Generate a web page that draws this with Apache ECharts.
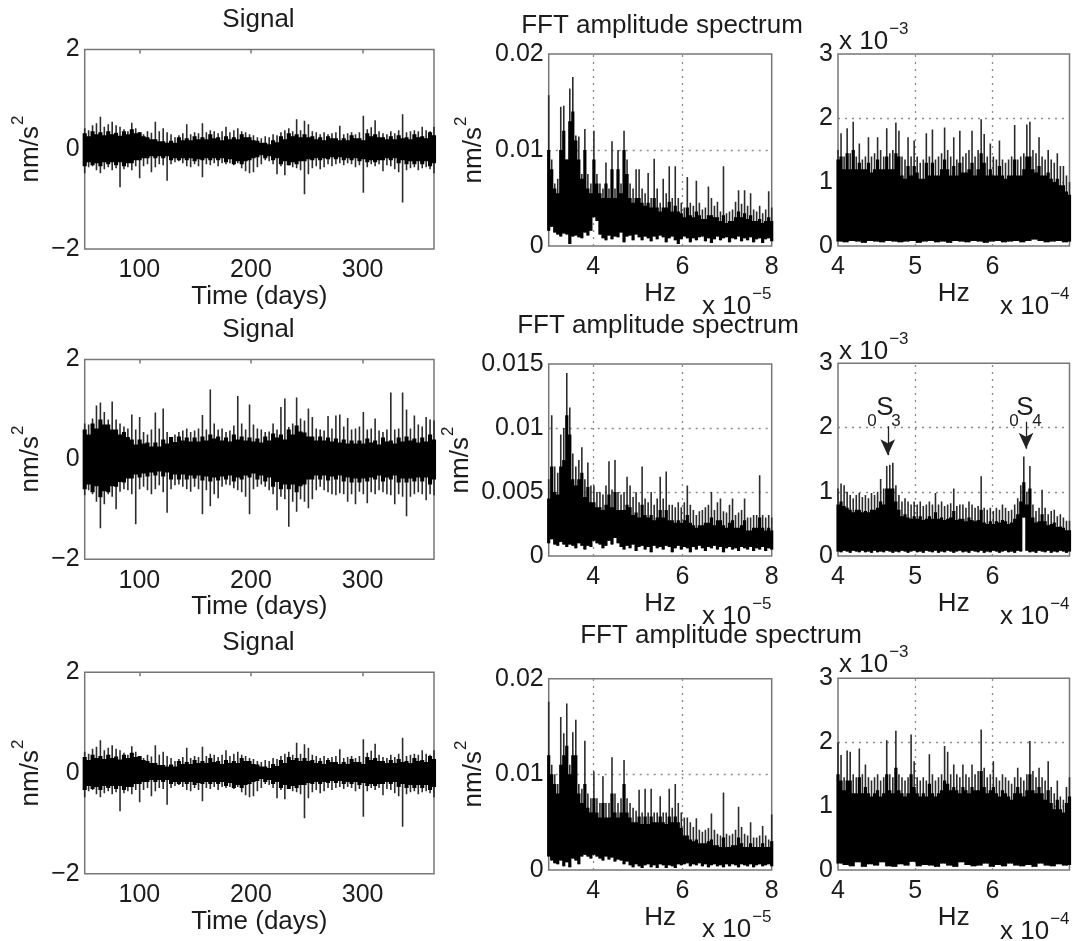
<!DOCTYPE html>
<html lang="en">

<head>
    <meta charset="UTF-8">
    <title>Signal and FFT amplitude spectrum</title>
    <script src="https://cdn.jsdelivr.net/npm/echarts@6/dist/echarts.min.js"></script>
</head>
<style>
    html, body { margin: 0; padding: 0; background: #fff; }
</style>

<body>
    <div id="box" style="width:1073px;height:941px"></div>
</body>
<script>
    // signal panels (nm/s2), rows 1 and 3 show the same trace
    const sigATop = [.42,.38,.48,.52,.65,.45,.5,.55,.48,.45,.4,.36,.53,.42,.34,.3,.36,.33,.55,.36,.42,.34,.3,.24,.28,.32,.5,.3,.34,.32,.52,.34,.38,.36,.32,.36,.45,.34,.38,.42,.36,.34,.3,.28,.24,.22,.26,.24,.3,.28,.34,.38,.42,.36,.6,.38,.57,.5,.36,.34,.3,.34,.3,.32,.34,.47,.3,.32,.34,.3,.34,.67,.4,.44,.58,.36,.32,.3,.36,.32,.38,.7,.34,.36,.38,.36,.45,.38,.36,.45];
    const sigABot = [-.48,-.36,-.34,-.42,-.48,-.4,-.36,-.42,-.38,-.76,-.4,-.36,-.42,-.34,-.58,-.34,-.3,-.46,-.36,-.3,-.32,-.63,-.3,-.26,-.24,-.28,-.34,-.36,-.3,-.34,-.56,-.3,-.32,-.28,-.34,-.28,-.3,-.28,-.32,-.28,-.38,-.44,-.48,-.46,-.36,-.3,-.22,-.24,-.3,-.5,-.34,-.52,-.32,-.36,-.38,-.42,-.9,-.5,-.38,-.34,-.4,-.36,-.3,-.34,-.3,-.28,-.32,-.28,-.3,-.36,-.32,-.87,-.36,-.3,-.34,-.3,-.44,-.32,-.34,-.4,-.46,-1.07,-.42,-.38,-.36,-.42,-.38,-.36,-.4,-.48];
    const sigACoreTop = [.32,.26,.36,.3,.34,.28,.36,.3,.33,.27,.36,.3,.4,.32,.34,.26,.24,.2,.2,.16,.16,.13,.17,.13,.24,.18,.22,.18,.26,.2,.24,.2,.3,.22,.24,.18,.26,.2,.24,.2,.3,.24,.24,.18,.17,.13,.13,.1,.18,.14,.26,.2,.32,.26,.3,.24,.3,.24,.26,.2,.24,.18,.26,.22,.22,.18,.22,.18,.28,.22,.22,.18,.32,.26,.3,.24,.24,.2,.26,.2,.28,.22,.24,.2,.3,.24,.26,.22,.34,.28];
    const sigACoreBot = [-.34,-.26,-.32,-.28,-.34,-.26,-.3,-.26,-.32,-.26,-.34,-.28,-.28,-.22,-.22,-.18,-.18,-.14,-.18,-.14,-.18,-.14,-.22,-.18,-.22,-.18,-.22,-.18,-.24,-.2,-.22,-.18,-.22,-.18,-.22,-.18,-.26,-.2,-.3,-.24,-.3,-.24,-.22,-.18,-.16,-.12,-.18,-.14,-.22,-.18,-.3,-.24,-.32,-.26,-.3,-.24,-.24,-.2,-.22,-.18,-.22,-.18,-.2,-.16,-.2,-.16,-.22,-.18,-.22,-.18,-.24,-.2,-.26,-.22,-.26,-.22,-.22,-.18,-.22,-.18,-.28,-.22,-.3,-.24,-.3,-.24,-.3,-.24,-.34,-.28];

    const sigBTop = [.72,.7,.82,1.08,1.14,.95,.8,1.16,.8,.72,.66,.62,.9,.6,.85,.55,.5,.6,.94,.62,1.02,.55,.45,.5,.55,.58,.62,.55,.58,.62,.89,.6,1.4,.72,.6,.62,.55,.58,.68,1.27,.72,.6,1.1,.7,.62,.6,.55,.56,.72,.6,1.05,1.22,.65,.72,1.24,.82,.78,1.02,.85,.62,.6,.58,.87,.62,.88,.9,.66,.83,.6,.62,.66,.95,.6,.62,.82,.58,.55,.6,1.34,.6,.62,1.34,1.0,.62,.88,.7,.66,.85,.8,.78];
    const sigBBot = [-.72,-.62,-.7,-.85,-1.38,-.9,-.7,-.75,-1.0,-.65,-.6,-.62,-.7,-1.3,-.6,-.55,-.62,-.7,-.6,-.52,-.66,-1.07,-.6,-.52,-.5,-.55,-.6,-.65,-.55,-.6,-1.1,-.62,-.94,-.7,-.78,-.55,-.5,-.52,-.58,-.62,-.66,-.75,-1.1,-.6,-.55,-.5,-.55,-.62,-.7,-1.02,-.75,-.8,-1.35,-.85,-1.05,-.8,-.85,-.98,-.8,-.62,-.55,-.62,-.66,-.7,-.72,-.68,-.7,-.85,-.7,-.9,-.65,-.7,-.88,-.66,-.7,-.62,-.66,-.7,-.72,-.9,-.7,-.75,-1.14,-.75,-.7,-.66,-.7,-.82,-.7,-.72];
    const sigBCoreTop = [.6,.5,.72,.62,.8,.7,.7,.6,.6,.5,.55,.45,.4,.3,.4,.32,.34,.26,.34,.26,.4,.32,.45,.35,.46,.38,.44,.36,.44,.36,.46,.38,.5,.42,.46,.38,.44,.36,.5,.4,.46,.38,.44,.36,.42,.34,.46,.38,.52,.44,.5,.4,.6,.5,.68,.56,.54,.46,.46,.38,.46,.38,.44,.36,.42,.34,.4,.32,.38,.32,.38,.32,.42,.34,.38,.3,.44,.36,.38,.32,.44,.36,.46,.38,.42,.34,.44,.36,.5,.4];
    const sigBCoreBot = [-.6,-.5,-.66,-.54,-.76,-.64,-.66,-.54,-.55,-.45,-.46,-.38,-.38,-.3,-.36,-.28,-.34,-.26,-.32,-.24,-.34,-.26,-.4,-.3,-.4,-.3,-.4,-.32,-.38,-.32,-.42,-.34,-.44,-.36,-.42,-.34,-.4,-.32,-.44,-.36,-.4,-.32,-.36,-.28,-.4,-.32,-.44,-.36,-.55,-.45,-.6,-.5,-.6,-.5,-.66,-.54,-.5,-.4,-.4,-.32,-.4,-.32,-.42,-.34,-.4,-.32,-.44,-.36,-.46,-.38,-.46,-.38,-.44,-.36,-.4,-.32,-.44,-.36,-.4,-.32,-.46,-.38,-.46,-.38,-.44,-.36,-.44,-.36,-.5,-.4];

    // low band spectra, in units of 1e-3 nm/s2
    const lowATop = [15.7,9,6.5,7,14.5,14.6,9,16.4,17.6,11.5,11.4,7.5,12.2,7.5,6.5,12,7.5,6.5,6,8.7,6,10.9,6,10,6.5,12,9,6.5,6,8,8,6,5.5,7.6,5,9.1,6,4.5,7,5.5,8.3,5,8.3,5,4.5,4,7.2,4.5,4.2,6.8,4.5,3.8,4,6.2,5,4.2,4.6,3.6,8.3,3.4,3.6,3.8,4.6,5.8,4.4,5.8,4.2,5.5,3.8,3.6,4.2,3.4,3.8,5.7,4];
    const lowACoreTop = [10,8,6,5.5,10,12,9,13,14,11,9,7,10,6,5.5,9,6.5,5.5,5,6.5,5,8,5,8,5.5,10,7.5,5,4.5,5,5,4.5,4.2,4.5,4,5,4,3.6,4,4,4.6,3.6,4.2,3.6,3.4,3,4,3.2,3,3.6,3.2,2.8,2.8,3.2,3.2,3,3,2.6,3.2,2.4,2.6,2.6,3,3.6,3,3.4,2.8,3.2,2.6,2.6,2.8,2.4,2.6,3,2.6];
    const lowACoreBot = [1.6,2,1.4,1.2,1,1.3,1.2,.2,1,1.1,.9,.8,1.4,1.1,1.6,3,2.6,1.2,.8,.6,1.1,.7,1,.9,1.4,.4,1,1.1,.6,1.2,.9,.6,1,.8,.5,1,.7,1.1,.9,.4,.8,1,.6,.2,.7,1,.8,.4,.8,.6,.9,1,.5,.8,.3,.7,1,.6,.8,.9,.4,.8,.7,1,.5,.8,.6,.9,.4,.7,.8,.3,.7,.8,.5];

    const lowBTop = [6,11,7,6.5,9.5,10,14.3,11.6,8,7,7.5,8.5,6,7.3,5.5,5.5,5,5,4.8,5.5,7.4,5.2,7.5,5,4.8,5,6.2,5.5,4.6,5,4.2,7,4.5,4.2,5,4,4.5,6.2,4.5,6.6,4,4,3.8,4.2,3.8,4.2,5.5,4,3.6,3.2,3.5,3.6,3.8,4,5,3.6,4.2,4.5,3.5,3.4,4,4.5,3.2,3.4,3.6,4.5,3,3,3.2,3.2,6.3,3.2,3,3.2,3];
    const lowBCoreTop = [4.5,7,5,4.8,7,7.5,11,9.5,6,5.5,6,6.5,4.6,5.4,4.2,4.2,3.8,3.8,3.6,4,4.8,3.8,5,3.6,3.6,3.6,4,3.8,3.2,3.4,3,4,3.2,3,3.2,2.8,3,3.6,3,3.6,2.8,2.8,2.6,2.8,2.6,2.8,3.2,2.6,2.4,2.2,2.4,2.4,2.6,2.6,3,2.4,2.8,2.8,2.4,2.2,2.6,2.8,2.2,2.2,2.4,2.8,2,2,2.2,2.2,3,2.2,2,2.2,2];
    const lowBCoreBot = [1,1.3,.9,.8,1.1,.9,.7,.9,.8,.6,1,.8,.5,.8,.7,1.2,1,.9,.6,.8,1.2,.9,1.4,1,.7,.5,.8,.6,.9,.4,.7,.8,.5,.7,.3,.8,.6,.7,.5,.8,.7,.3,.6,.8,.5,.7,.6,.3,.7,.5,.8,.6,.4,.7,.6,.8,.5,.7,.3,.6,.7,.5,.6,.4,.7,.6,.5,.7,.4,.6,.5,.7,.4,.6,.5];

    const lowCTop = [17.6,11,10,9,16,14.3,17.4,11,14.4,15.7,9,8.5,13.5,8,7.5,10.3,7.5,7,9.8,7,7,11.8,8,7,7.5,11.5,7.5,7,6.5,6.2,8.4,6,8.5,6,8.5,6,6,7.7,6,6,8.5,6.5,9,7,6,5.5,5.5,5,4.5,5.4,4.2,4,4.2,4.4,5.9,4.2,3.8,3.6,8.1,3.8,3.6,3.8,4.2,6.6,4.5,3.8,3.6,5,3.4,3.4,3.6,4.6,3.6,3.2,5.8];
    const lowCCoreTop = [12,10,9,8,11,12,13,10,12,12,8,7,9,6.5,6,7.5,6,5.5,7,5.5,5.5,8,6,5.5,6,9,6,5.5,5,5,5.6,4.8,5.6,4.8,5.6,5,5,5.6,5,4.8,5.6,5,5.6,5,4.4,3.6,3.6,3.2,3,3.2,2.8,2.8,2.8,3,3.2,2.6,2.6,2.4,3.4,2.4,2.4,2.6,2.6,3.4,2.8,2.4,2.4,2.8,2.4,2.4,2.4,2.8,2.4,2.4,3];
    const lowCCoreBot = [1.4,1,.7,.6,1,.4,.8,.3,1.2,1,.6,1.4,1.6,1.4,1.2,1.6,1.4,1.2,1,1.4,1.1,1.3,.9,1.1,1,.6,.9,.5,.3,.6,.4,.2,.5,.6,.3,.5,.2,.6,.5,.2,.5,.4,.2,.6,.5,.6,.7,.4,.6,.5,.7,.4,.6,.3,.5,.6,.4,.5,.3,.6,.4,.6,.5,.3,.6,.5,.4,.6,.3,.5,.6,.4,.5,.6,.4];

    // high band spectra, in units of 1e-3 nm/s2
    const highATop = [1.5,1.76,1.4,1.84,1.45,1.94,1.4,1.6,1.35,1.4,1.7,1.4,1.45,1.7,1.5,1.4,1.84,1.45,1.5,1.93,1.8,1.4,1.35,1.7,1.4,1.65,1.4,1.3,1.35,1.76,1.4,1.82,1.35,1.4,1.45,1.85,1.5,1.4,1.7,1.35,1.8,1.4,1.45,1.5,1.8,1.4,1.5,1.98,1.75,1.4,1.6,1.4,1.35,1.65,1.35,1.3,1.35,1.4,1.89,1.35,1.4,1.45,1.9,1.94,1.5,1.45,1.7,1.4,1.35,1.5,1.35,1.3,1.45,1.25,1.25,1.1,1.0];
    const highACoreTop = [1.35,1.4,1.2,1.45,1.2,1.5,1.2,1.3,1.2,1.2,1.3,1.15,1.2,1.35,1.2,1.2,1.4,1.2,1.2,1.45,1.4,1.1,1.05,1.25,1.1,1.25,1.15,1.05,1.05,1.3,1.1,1.3,1.1,1.1,1.2,1.35,1.2,1.1,1.25,1.1,1.3,1.15,1.15,1.2,1.3,1.1,1.2,1.45,1.3,1.1,1.2,1.1,1.1,1.25,1.1,1.05,1.1,1.1,1.35,1.1,1.1,1.2,1.4,1.4,1.2,1.15,1.25,1.1,1.1,1.15,1.05,1,1.05,.95,.95,.85,.8];
    const highACoreBot = [.07,.06,.08,.07,.05,.08,.07,.06,.08,.07,.06,.07,.08,.05,.07,.08,.06,.07,.05,.08,.07,.06,.08,.07,.05,.07,.08,.06,.07,.08,.06,.08,.1,.08,.06,.07,.08,.06,.07];

    const highBTop = [1.05,1.13,1.1,1.0,.95,.9,.95,.98,.92,.95,.9,.98,.95,1.0,1.2,1.05,1.4,1.42,1.45,1.1,.95,.85,.9,.85,.8,.85,.8,.85,.78,.8,.85,.8,.98,.8,.85,.78,.8,.82,1.05,.78,.8,.8,.75,.85,.8,.75,.78,1.24,.75,.72,.75,.7,.75,.72,.8,.75,.7,.72,.8,.9,1.1,1.55,1.0,1.4,.8,.7,.75,1.03,.75,.65,.7,.72,.62,.65,.6,.55,.55];
    const highBCoreTop = [.8,.85,.78,.75,.72,.68,.72,.72,.68,.7,.68,.72,.72,.75,.85,.8,1.05,1.05,1.05,.85,.72,.62,.65,.6,.58,.62,.58,.62,.56,.58,.62,.58,.68,.58,.6,.56,.58,.6,.7,.56,.58,.58,.54,.6,.56,.54,.56,.72,.52,.5,.54,.5,.54,.52,.56,.54,.5,.52,.58,.65,.85,1.15,.8,1.05,.6,.52,.54,.65,.54,.48,.5,.52,.45,.46,.44,.4,.4];
    const highBCoreBot = [.07,.06,.08,.07,.05,.08,.07,.06,.08,.06,.07,.05,.08,.06,.07,.06,.08,.07,.05,.07,.06,.08,.07,.05,.07,.08,.06,.07,.05,.08,.07,.06,.08,.05,.07,.06,.08,.07,.05,.07,.08,.06,.07,.05,.08,.07,.06,.08,.05,.07,.06,.08,.07,.05,.07,.08,.06,.07,.05,.08,.07,.6,.08,.06,.07,.05,.08,.07,.06,.08,.05,.07,.06,.08,.07,.05,.07];

    const highCTop = [2.0,1.8,1.45,1.87,1.85,1.5,1.45,1.9,1.5,1.65,1.45,1.4,1.45,1.5,1.4,1.45,2.03,1.5,1.45,2.18,1.5,1.45,1.4,1.45,2.12,1.7,1.45,1.4,1.45,1.4,1.81,1.5,1.4,1.45,1.5,1.94,1.85,1.5,1.65,1.5,1.45,1.65,1.5,1.45,1.65,1.5,1.55,2.2,1.6,1.45,1.5,1.7,1.45,1.4,1.5,1.45,1.4,1.35,1.45,1.6,1.45,1.4,1.5,2.02,1.55,1.45,1.6,1.45,1.4,1.7,1.3,1.2,1.4,1.15,1.1,1.3,1.45];
    const highCCoreTop = [1.5,1.4,1.25,1.4,1.4,1.2,1.2,1.45,1.2,1.3,1.2,1.15,1.2,1.25,1.15,1.2,1.5,1.25,1.2,1.6,1.25,1.2,1.15,1.2,1.5,1.3,1.2,1.15,1.2,1.15,1.35,1.2,1.15,1.2,1.25,1.4,1.35,1.25,1.3,1.25,1.2,1.3,1.25,1.2,1.3,1.25,1.25,1.55,1.3,1.2,1.25,1.3,1.2,1.15,1.25,1.2,1.15,1.1,1.2,1.3,1.2,1.15,1.25,1.5,1.25,1.2,1.3,1.2,1.1,1.25,1.05,.95,1.1,.95,.9,1.05,1.15];
    const highCCoreBot = [.1,.08,.06,.12,.05,.09,.07,.12,.06,.05,.09,.07,.13,.06,.08,.07,.05,.1,.07,.05,.12,.08,.06,.07,.1,.05,.08,.06,.1,.07,.06,.08,.05,.1,.07,.06,.09,.07,.08];

    const ink = '#1c1c1c';
    const frame = '#777';
    const font = '"Liberation Sans", Arial, sans-serif';

    const grids = [], xAxes = [], yAxes = [], series = [], texts = [];

    // x position of each sample, evenly across the axis
    function place(xMin, xMax, n) {
        const out = [];
        for (let i = 0; i < n; i++) out.push(xMin + (xMax - xMin) * i / (n - 1));
        return out;
    }

    // one vertical stroke per sample, from the upper to the lower value
    function stems(xMin, xMax, upper, lower) {
        const xs = place(xMin, xMax, upper.length);
        const data = [];
        upper.forEach((u, i) => {
            const l = lower[Math.floor(i * lower.length / upper.length)];
            data.push([xs[i], u], [xs[i], l], [xs[i], '-']);
        });
        return data;
    }

    function addPanel(p) {
        const g = grids.length;
        grids.push({
            left: p.left, top: p.top, width: p.width, height: p.height,
            show: true, borderColor: frame, borderWidth: 1.5, backgroundColor: '#fff',
        });
        const xIndex = xAxes.length;
        xAxes.push({
            type: 'value', gridIndex: g, min: p.xMin, max: p.xMax,
            name: p.xName, nameLocation: 'middle', nameGap: p.xNameGap,
            nameTextStyle: { fontFamily: font, fontSize: 26, color: ink },
            axisLine: { show: false },
            axisTick: { show: p.ticks, inside: true, length: 4, customValues: p.xTicks, lineStyle: { color: frame, width: 1.5 } },
            axisLabel: { customValues: p.xTicks, margin: 9, fontFamily: font, fontSize: 25, color: ink },
            splitLine: { show: false },
        });
        if (p.ticks) {
            xAxes.push({
                type: 'value', gridIndex: g, position: 'top', min: p.xMin, max: p.xMax,
                axisLine: { show: false },
                axisTick: { show: true, inside: true, length: 4, customValues: p.xTicks, lineStyle: { color: frame, width: 1.5 } },
                axisLabel: { show: false },
                splitLine: { show: false },
            });
        }
        const yIndex = yAxes.length;
        yAxes.push({
            type: 'value', gridIndex: g, min: p.yMin, max: p.yMax, interval: p.yStep,
            axisLine: { show: false }, axisTick: { show: false }, splitLine: { show: false },
            axisLabel: { margin: 5, padding: [p.ticks ? 1 : 3, 0, 0, 0], fontFamily: font, fontSize: 25, color: ink, formatter: p.yLabel },
        });

        // dotted guides sit under the trace
        if (p.guideX) {
            series.push({
                type: 'line', xAxisIndex: xIndex, yAxisIndex: yIndex, data: [], z: 1, silent: true,
                markLine: {
                    z: 1, silent: true, symbol: 'none', animation: false, label: { show: false },
                    lineStyle: { type: [2, 5], color: '#8a8a8a', width: 1.3 },
                    data: p.guideX.map(v => ({ xAxis: v })).concat(p.guideY.map(v => ({ yAxis: v }))),
                },
            });
        }
        const base = {
            type: 'line', xAxisIndex: xIndex, yAxisIndex: yIndex, showSymbol: false, symbol: 'none',
            silent: true, animation: false, clip: true, connectNulls: false,
        };
        series.push(Object.assign({}, base, {
            z: 3, data: stems(p.xMin, p.xMax, p.top_, p.bot),
            lineStyle: { color: '#2c2c2c', width: 1.6 },
        }));
        series.push(Object.assign({}, base, {
            z: 4, data: stems(p.xMin, p.xMax, p.coreTop, p.coreBot),
            lineStyle: { color: '#000', width: p.coreWidth },
        }));
        if (p.arrows) {
            series.push({
                type: 'line', xAxisIndex: xIndex, yAxisIndex: yIndex, data: [], z: 5, silent: true,
                markLine: {
                    silent: true, animation: false, label: { show: false },
                    lineStyle: { type: 'solid', color: '#222', width: 1.3 },
                    data: p.arrows.map(a => [
                        { coord: [a[0], a[1]], symbol: 'none' },
                        { coord: [a[0], a[2]], symbol: 'arrow', symbolSize: [11, 16] },
                    ]),
                },
            });
        }
    }

    function addText(text, x, y, size) {
        texts.push({
            type: 'text', x: x, y: y, silent: true,
            style: { text: text, fontFamily: font, fontSize: size || 26, fill: ink, align: 'center', verticalAlign: 'middle' },
        });
    }

    // text with a raised part, e.g. "x 10" and its exponent
    function addRaised(base, raised, x, y, rotate) {
        texts.push({
            type: 'text', x: x, y: y, rotation: rotate ? Math.PI / 2 : 0, silent: true,
            style: {
                text: `{b|${base}}{s|${raised}}`, align: rotate ? 'center' : 'left', verticalAlign: 'middle', fill: ink,
                rich: {
                    b: { fontFamily: font, fontSize: 26, fill: ink, lineHeight: 34, verticalAlign: 'bottom' },
                    s: { fontFamily: font, fontSize: 17, fill: ink, lineHeight: 34, verticalAlign: 'top', padding: [0, 0, 0, 1] },
                },
            },
        });
    }

    const minus = v => String(v).replace('-', '\u2212');
    const thousandth = v => String(v / 1000);

    // the three rows
    const signalRows = [
        { top: 49.5, height: 199.5, t: sigATop, b: sigABot, ct: sigACoreTop, cb: sigACoreBot },
        { top: 359.5, height: 199.8, t: sigBTop, b: sigBBot, ct: sigBCoreTop, cb: sigBCoreBot },
        { top: 672.3, height: 201.4, t: sigATop, b: sigABot, ct: sigACoreTop, cb: sigACoreBot },
    ];
    signalRows.forEach(r => addPanel({
        left: 84.7, top: r.top, width: 349.3, height: r.height,
        xMin: 51, xMax: 364, xTicks: [100, 200, 300], xName: 'Time (days)', xNameGap: 33, ticks: true,
        yMin: -2, yMax: 2, yStep: 2, yLabel: minus,
        top_: r.t, bot: r.b, coreTop: r.ct, coreBot: r.cb, coreWidth: 4.1,
    }));

    const lowRows = [
        { top: 54, height: 192, yMax: 20, yStep: 10, guideY: [10], t: lowATop, ct: lowACoreTop, cb: lowACoreBot },
        { top: 364, height: 192, yMax: 15, yStep: 5, guideY: [5, 10], t: lowBTop, ct: lowBCoreTop, cb: lowBCoreBot },
        { top: 678.7, height: 191.3, yMax: 20, yStep: 10, guideY: [10], t: lowCTop, ct: lowCCoreTop, cb: lowCCoreBot },
    ];
    lowRows.forEach(r => addPanel({
        left: 548.7, top: r.top, width: 223, height: r.height,
        xMin: 3, xMax: 8, xTicks: [4, 6, 8], xName: 'Hz', xNameGap: 32, ticks: false,
        yMin: 0, yMax: r.yMax, yStep: r.yStep, yLabel: thousandth,
        guideX: [4, 6], guideY: r.guideY,
        top_: r.t, bot: r.cb, coreTop: r.ct, coreBot: r.cb, coreWidth: 3.2,
    }));

    const highRows = [
        { top: 54, height: 192, t: highATop, ct: highACoreTop, cb: highACoreBot },
        { top: 363.3, height: 192.7, t: highBTop, ct: highBCoreTop, cb: highBCoreBot, arrows: [[4.645, 2.02, 1.57], [6.437, 2.09, 1.67]] },
        { top: 678.3, height: 191.7, t: highCTop, ct: highCCoreTop, cb: highCCoreBot },
    ];
    highRows.forEach(r => addPanel({
        left: 838, top: r.top, width: 231.5, height: r.height,
        xMin: 4, xMax: 7, xTicks: [4, 5, 6], xName: 'Hz', xNameGap: 32, ticks: false,
        yMin: 0, yMax: 3, yStep: 1, yLabel: minus,
        guideX: [5, 6], guideY: [1, 2],
        top_: r.t, bot: r.cb, coreTop: r.ct, coreBot: r.cb, coreWidth: 3.2, arrows: r.arrows,
    }));

    // titles
    addText('Signal', 258.5, 20);
    addText('Signal', 258.5, 330);
    addText('Signal', 258.5, 643);
    addText('FFT amplitude spectrum', 662, 26);
    addText('FFT amplitude spectrum', 658, 326);
    addText('FFT amplitude spectrum', 721, 636);

    // y names
    addRaised('nm/s', '2', 26.5, 149, true);
    addRaised('nm/s', '2', 26.5, 459, true);
    addRaised('nm/s', '2', 26.5, 773, true);
    addRaised('nm/s', '2', 470, 150, true);
    addRaised('nm/s', '2', 457, 460, true);
    addRaised('nm/s', '2', 470, 774, true);

    // axis multipliers
    addRaised('x 10', '\u22125', 702, 303);
    addRaised('x 10', '\u22125', 702, 613);
    addRaised('x 10', '\u22125', 702, 926);
    addRaised('x 10', '\u22124', 1000, 303);
    addRaised('x 10', '\u22124', 1000, 613);
    addRaised('x 10', '\u22124', 1000, 928);
    addRaised('x 10', '\u22123', 839, 38);
    addRaised('x 10', '\u22123', 839, 348);
    addRaised('x 10', '\u22123', 839, 661);

    // mode labels
    addText('S', 885, 408, 26);
    addText('0', 872, 421, 17);
    addText('3', 896, 421, 17);
    addText('S', 1025, 408, 26);
    addText('0', 1014, 421, 17);
    addText('4', 1037, 421, 17);

    const myChart = echarts.init(document.getElementById('box'), null, { renderer: 'canvas' });
    myChart.setOption({
        animation: false,
        backgroundColor: '#fff',
        grid: grids,
        xAxis: xAxes,
        yAxis: yAxes,
        series: series,
        graphic: texts,
    });
</script>

</html>
